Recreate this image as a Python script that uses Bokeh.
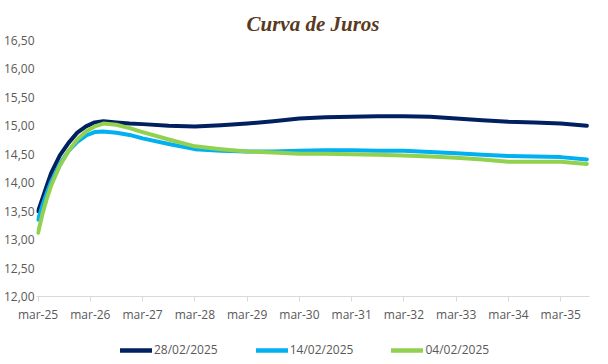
from bokeh.plotting import figure
from bokeh.models import Legend, LegendItem, FixedTicker, Range1d, Title
from bokeh.layouts import column
from bokeh.embed import file_html
from bokeh.resources import INLINE

# ---- data ----
months = ["2025-03", "2025-04", "2025-05", "2025-06", "2025-08", "2025-10", "2025-12",
          "2026-02", "2026-04", "2026-06", "2026-09", "2026-12", "2027-03", "2027-09",
          "2028-03", "2028-09", "2029-03", "2029-09", "2030-03", "2030-09", "2031-03",
          "2031-09", "2032-03", "2032-09", "2033-03", "2033-09", "2034-03", "2034-09",
          "2035-03", "2035-09"]

curve_28_02 = [13.50, 13.72, 13.95, 14.17, 14.48, 14.70, 14.88, 14.99, 15.06, 15.08,
               15.06, 15.04, 15.03, 15.00, 14.99, 15.01, 15.04, 15.08, 15.13, 15.15,
               15.16, 15.17, 15.17, 15.16, 15.13, 15.10, 15.07, 15.06, 15.04, 15.00]
curve_14_02 = [13.35, 13.60, 13.82, 14.02, 14.33, 14.56, 14.72, 14.83, 14.89, 14.90,
               14.88, 14.84, 14.78, 14.68, 14.59, 14.56, 14.55, 14.55, 14.56, 14.57,
               14.57, 14.56, 14.56, 14.54, 14.52, 14.49, 14.47, 14.46, 14.45, 14.41]
curve_04_02 = [13.12, 13.45, 13.72, 13.95, 14.30, 14.56, 14.76, 14.90, 14.99, 15.04,
               15.02, 14.96, 14.89, 14.76, 14.64, 14.59, 14.55, 14.53, 14.51, 14.51,
               14.50, 14.49, 14.48, 14.46, 14.44, 14.41, 14.37, 14.37, 14.37, 14.33]

series_names = ["28/02/2025", "14/02/2025", "04/02/2025"]
series_colors = ["#002060", "#00B0F0", "#92D050"]

x_tick_labels = ["mar-25", "mar-26", "mar-27", "mar-28", "mar-29", "mar-30",
                 "mar-31", "mar-32", "mar-33", "mar-34", "mar-35"]
y_ticks = [12.0, 12.5, 13.0, 13.5, 14.0, 14.5, 15.0, 15.5, 16.0, 16.5]
y_tick_labels = ["12,00", "12,50", "13,00", "13,50", "14,00", "14,50",
                 "15,00", "15,50", "16,00", "16,50"]


def to_years(m):
    y, mo = m.split("-")
    return (int(y) - 2025) + (int(mo) - 3) / 12.0


xs = [to_years(m) for m in months]
all_series = [curve_28_02, curve_14_02, curve_04_02]

FONT = "Open Sans"
GREY = "#595959"

p = figure(frame_width=553, frame_height=256, output_backend="svg", toolbar_location=None,
           x_range=Range1d(-0.03, 10.55), y_range=Range1d(12.0, 16.5),
           min_border_left=30, min_border_right=6, min_border_top=40,
           min_border_bottom=28)
p.outline_line_color = None
p.xgrid.visible = False
p.ygrid.visible = False
p.background_fill_color = "white"
p.border_fill_color = "white"

title = Title(text="Curva de Juros", align="center", text_font="Liberation Serif",
              text_font_style="bold italic", text_font_size="21px",
              text_color="#5A3A1E", offset=-11, standoff=10)
p.add_layout(title, "above")

for vals, col in zip(all_series, series_colors):
    p.line(xs, vals, line_color=col, line_width=4, line_join="round", line_cap="round")

# x axis
xa = p.xaxis[0]
xa.ticker = FixedTicker(ticks=list(range(len(x_tick_labels))))
xa.major_label_overrides = {i: lab for i, lab in enumerate(x_tick_labels)}
xa.axis_line_color = "#D9D9D9"
xa.axis_line_width = 1
xa.major_tick_line_color = "#D9D9D9"
xa.major_tick_in = 0
xa.major_tick_out = 5
xa.minor_tick_line_color = None
xa.major_label_text_font = FONT
xa.major_label_text_font_size = "12px"
xa.major_label_text_color = GREY
xa.major_label_standoff = 4

# y axis
ya = p.yaxis[0]
ya.ticker = FixedTicker(ticks=y_ticks)
ya.major_label_overrides = {t: lab for t, lab in zip(y_ticks, y_tick_labels)}
ya.axis_line_color = None
ya.major_tick_line_color = None
ya.minor_tick_line_color = None
ya.major_tick_out = 0
ya.major_tick_in = 0
ya.major_label_text_font = FONT
ya.major_label_text_font_size = "12px"
ya.major_label_text_color = GREY
ya.major_label_standoff = 2

# ---- legend strip (separate small figure below the chart) ----
# the series are drawn again here, outside the visible range, only to feed the legend swatches
pl = figure(width=592, height=40, output_backend="svg", toolbar_location=None,
            x_range=Range1d(0, 1), y_range=Range1d(0, 1),
            x_axis_location=None, y_axis_location=None,
            min_border_left=0, min_border_right=0, min_border_top=0, min_border_bottom=0)
pl.outline_line_color = None
pl.grid.visible = False
pl.background_fill_color = "white"
pl.border_fill_color = "white"

leg_renderers = []
for vals, col in zip(all_series, series_colors):
    leg_renderers.append(pl.line(xs, vals, line_color=col, line_width=4.5, line_cap="round"))

legend = Legend(items=[LegendItem(label=n, renderers=[r]) for n, r in zip(series_names, leg_renderers)],
                orientation="horizontal", location=(84, 7),
                glyph_width=32, glyph_height=14, label_height=14, label_standoff=2, spacing=38,
                padding=0, margin=0, border_line_color=None,
                label_text_font=FONT, label_text_font_size="12px",
                label_text_color=GREY, background_fill_alpha=0)
pl.add_layout(legend)

layout = column(p, pl, spacing=0)
open("out.html", "w").write(file_html(layout, INLINE))
